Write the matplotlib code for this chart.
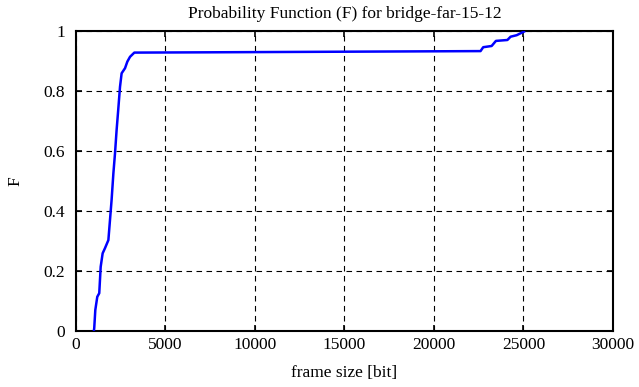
import numpy as np
import matplotlib
matplotlib.use('Agg')
import matplotlib.pyplot as plt

plt.rcParams.update({'font.family': ['Liberation Serif', 'DejaVu Serif'],
                     'font.size': 12.5,
                     'xtick.direction': 'in', 'ytick.direction': 'in',
                     'xtick.top': True, 'ytick.right': True})

frame_size = [1000, 1020, 1080, 1190, 1300, 1380, 1490, 1620, 1810, 1900,
              1990, 2090, 2180, 2270, 2360, 2460, 2550, 2740, 2870, 3020,
              3260, 7500, 15000, 22600, 22750, 23220, 23460, 24100, 24280,
              24620, 25030]
prob = [0.0, 0.01, 0.07, 0.114, 0.126, 0.214, 0.259, 0.276, 0.303, 0.37,
        0.437, 0.526, 0.592, 0.67, 0.737, 0.814, 0.859, 0.876, 0.898, 0.914,
        0.928, 0.929, 0.931, 0.933, 0.946, 0.95, 0.967, 0.97, 0.981,
        0.986, 0.998]

xticks = [0, 5000, 10000, 15000, 20000, 25000, 30000]
yticks = [0, 0.2, 0.4, 0.6, 0.8, 1]
ylabels = ['0', '0.2', '0.4', '0.6', '0.8', '1']

fig = plt.figure(figsize=(6.39, 3.87), dpi=100)
ax = fig.add_axes([0.1189, 0.1447, 0.8404, 0.7752])

ax.plot(frame_size, prob, color='#0000ff', lw=1.8, zorder=3)

ax.set_xlim(0, 30000)
ax.set_ylim(0, 1)
ax.set_xticks(xticks)
ax.set_yticks(yticks)
ax.set_yticklabels(ylabels)
ax.tick_params(length=4.5, width=1.2)
ax.tick_params(axis='x', pad=4)
ax.tick_params(axis='y', pad=8)
ax.grid(color='black', linestyle=(0, (5, 4)), linewidth=0.8)
for s in ax.spines.values():
    s.set_linewidth(1.5)

ax.set_title('Probability Function (F) for bridge-far-15-12', fontsize=12.5, pad=9)
ax.set_xlabel('frame size [bit]', labelpad=9)
ax.set_ylabel('F', labelpad=14)

fig.savefig('out.png', dpi=100)
